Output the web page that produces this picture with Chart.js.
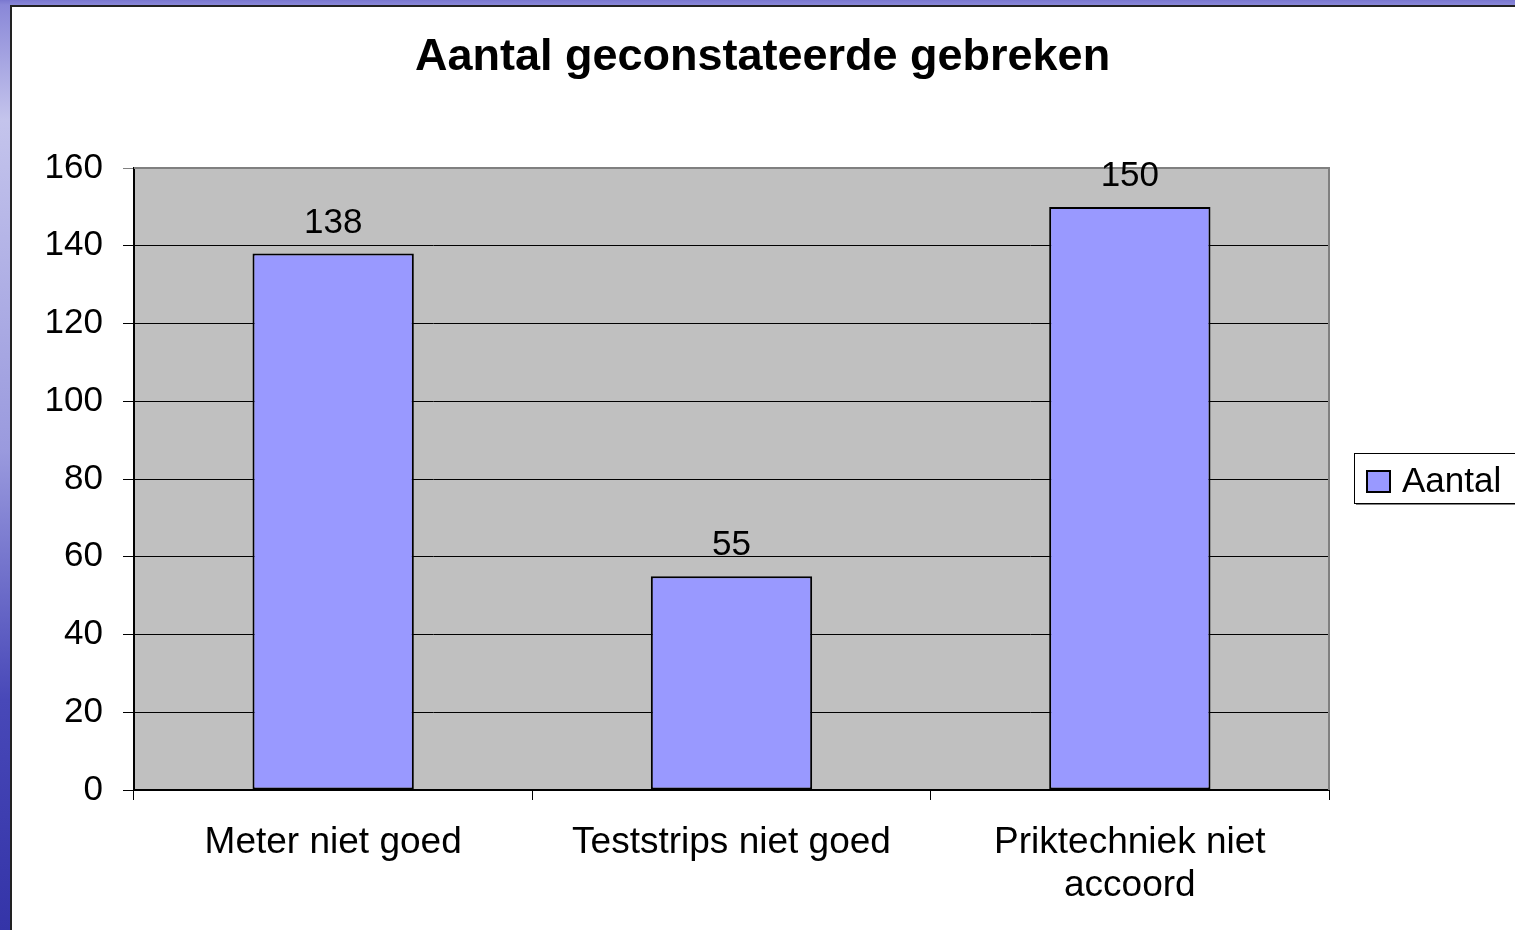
<!DOCTYPE html>
<html>
<head>
<meta charset="utf-8">
<script src="https://cdn.jsdelivr.net/npm/chart.js@4"></script>
<style>
  html, body { margin: 0; padding: 0; }
  body {
    width: 1515px; height: 930px; overflow: hidden; position: relative;
    background: linear-gradient(to bottom, #7a78d0 0px, #8a88d8 5px, #c4c4ec 120px, #9a9ade 450px, #4848b8 700px, #3434a8 930px);
  }
  #paper {
    position: absolute; left: 10px; top: 5px; right: 0; bottom: 0;
    background: #fff; border-left: 2px solid #222; border-top: 2px solid #222;
  }
  #myChart { position: absolute; left: 0; top: 0; }
</style>
</head>
<body>
<div id="paper"></div>
<canvas id="myChart" width="1515" height="930"></canvas>
<script>
const categorieen = ['Meter niet goed', 'Teststrips niet goed', ['Priktechniek niet', 'accoord']];
const aantallen = [138, 55, 150];
const reeksNaam = 'Aantal';
const yTicks = [0, 20, 40, 60, 80, 100, 120, 140, 160];

const fontFam = "'Liberation Sans', Arial, sans-serif";

// grijze achtergrond van het plotgebied
const plotBg = {
  id: 'plotBg',
  beforeDraw: (chart) => {
    const { ctx, chartArea: a } = chart;
    ctx.save();
    ctx.fillStyle = '#c0c0c0';
    ctx.fillRect(a.left, a.top, a.right - a.left, a.bottom - a.top);
    ctx.restore();
  },
  beforeDatasetsDraw: (chart) => {
    const { ctx, chartArea: a } = chart;
    ctx.save();
    ctx.strokeStyle = '#808080';
    ctx.lineWidth = 2;
    ctx.beginPath();
    ctx.moveTo(a.left, a.top);
    ctx.lineTo(a.right, a.top);
    ctx.lineTo(a.right, a.bottom);
    ctx.stroke();
    ctx.restore();
  }
};

// waarden boven de staven + legenda
const labelsEnLegenda = {
  id: 'labelsEnLegenda',
  afterDraw: (chart) => {
    const { ctx } = chart;
    const meta = chart.getDatasetMeta(0);
    ctx.save();
    ctx.font = '35px ' + fontFam;
    ctx.fillStyle = '#000';
    ctx.textAlign = 'center';
    ctx.textBaseline = 'alphabetic';
    meta.data.forEach((bar, i) => {
      ctx.fillText(aantallen[i], bar.x, bar.y - 21);
    });

    // legenda
    const lx = chart.chartArea.right + 25, ly = 453, lw = 200, lh = 50;
    ctx.fillStyle = '#808080';
    ctx.fillRect(lx + 2, ly + 2, lw, lh);
    ctx.fillStyle = '#fff';
    ctx.fillRect(lx, ly, lw, lh);
    ctx.strokeStyle = '#000';
    ctx.lineWidth = 1;
    ctx.strokeRect(lx + 0.5, ly + 0.5, lw, lh);
    ctx.fillStyle = '#9999ff';
    ctx.fillRect(lx + 13, ly + 18, 23, 21);
    ctx.lineWidth = 2;
    ctx.strokeRect(lx + 13, ly + 18, 23, 21);
    ctx.fillStyle = '#000';
    ctx.textAlign = 'left';
    ctx.textBaseline = 'middle';
    ctx.fillText(reeksNaam, lx + 48, ly + 29);
    ctx.restore();
  }
};

new Chart('myChart', {
  type: 'bar',
  data: {
    labels: categorieen,
    datasets: [{
      label: reeksNaam,
      data: aantallen,
      backgroundColor: '#9999ff',
      borderColor: '#000',
      borderWidth: 2,
      borderSkipped: false,
      barPercentage: 0.405,
      categoryPercentage: 1
    }]
  },
  options: {
    responsive: false,
    animation: false,
    devicePixelRatio: 1,
    layout: { padding: { left: 10, right: 0, top: 6, bottom: 0 } },
    plugins: {
      legend: { display: false },
      tooltip: { enabled: false },
      title: {
        display: true,
        text: 'Aantal geconstateerde gebreken',
        color: '#000',
        font: { family: fontFam, size: 45, weight: 'bold' },
        padding: { top: 25, bottom: 83 }
      }
    },
    scales: {
      x: {
        grid: { offset: true, drawOnChartArea: false, color: '#000', tickLength: 10, lineWidth: 1 },
        border: { display: true, color: '#000', width: 2 },
        ticks: { color: '#000', font: { family: fontFam, size: 37, lineHeight: 1.16 }, padding: 21, maxRotation: 0 },
        afterFit: (s) => { s.height = 140; }
      },
      y: {
        min: 0,
        max: 160,
        afterBuildTicks: (s) => { s.ticks = yTicks.map(v => ({ value: v })); },
        grid: { color: (c) => c.tick && c.tick.value === 160 ? '#808080' : '#000', tickLength: 11, lineWidth: 1 },
        border: { display: true, color: '#000', width: 2 },
        ticks: { color: '#000', font: { family: fontFam, size: 35 }, padding: 20 },
        afterFit: (s) => { s.width = 124; }
      },
      // lege as rechts: ruimte voor de legenda
      ruimte: {
        position: 'right',
        display: true,
        grid: { display: false },
        border: { display: false },
        ticks: { display: false },
        afterFit: (s) => { s.width = 186; }
      }
    }
  },
  plugins: [plotBg, labelsEnLegenda]
});
</script>
</body>
</html>
